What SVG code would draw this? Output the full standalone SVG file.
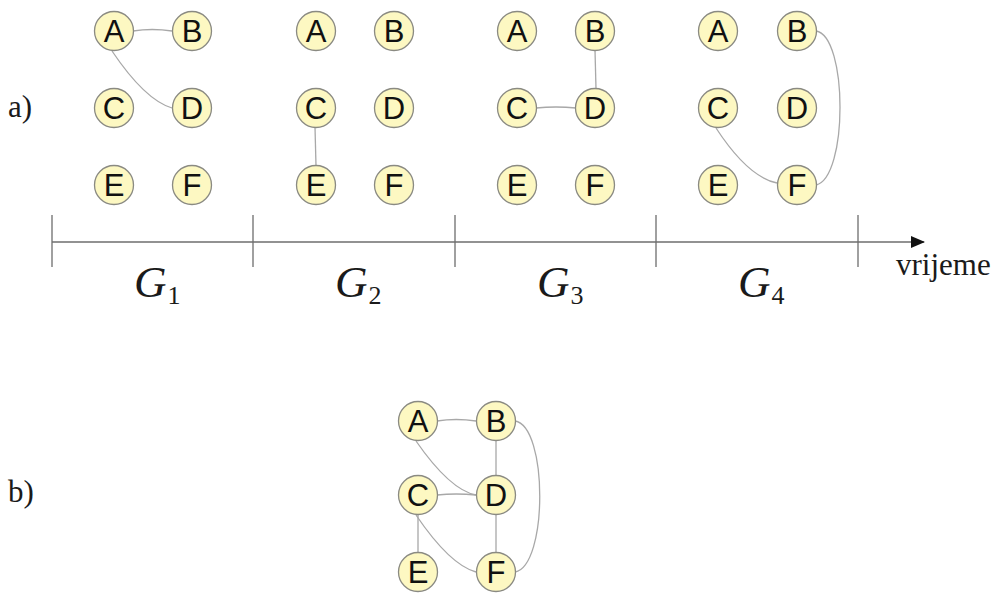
<svg xmlns="http://www.w3.org/2000/svg" width="998" height="593" viewBox="0 0 998 593">
<defs>
<style>
.n circle{fill:#fdf8c2;stroke:#8a8a82;stroke-width:1.3}
.n text{font-family:"Liberation Sans",Arial,sans-serif;font-size:31px;fill:#111;text-anchor:middle}
.e path{fill:none;stroke:#a8a8a8;stroke-width:1.3}
.ax{stroke:#6e6e6e;stroke-width:1.3;fill:none}
.lbl{font-family:"Liberation Serif","Times New Roman",serif;fill:#1a1a1a}
.g{font-style:italic;font-size:45px}
.s{font-size:26px}
.t{font-size:31px}
</style>
<marker id="arr" markerWidth="14" markerHeight="12" refX="13" refY="6" orient="auto" markerUnits="userSpaceOnUse">
<path d="M0,0 L14,6 L0,12 Z" fill="#111"/>
</marker>
</defs>
<rect width="998" height="593" fill="#fff"/>

<!-- connectors -->
<g id="connectors" class="e">
<!-- G1 -->
<path d="M133,31 Q152,28 172,31"/>
<path d="M112,51 Q145,100 172,108"/>
<!-- G2 -->
<path d="M315,127 L316,166"/>
<!-- G3 -->
<path d="M595,50 L596,89"/>
<path d="M536,108 Q556,106 576,108"/>
<!-- G4 -->
<path d="M816,31 C848,36 848,178 816,185"/>
<path d="M716,128 Q748,177 777,183"/>
<!-- b -->
<path d="M437,421 Q456,418 476,421"/>
<path d="M416,441 Q450,490 476,495"/>
<path d="M496,441 L496,475"/>
<path d="M437,495 Q456,493 476,495"/>
<path d="M418,515 L418,552"/>
<path d="M416,515 Q450,565 476,572"/>
<path d="M496,515 L496,552"/>
<path d="M515,421 C548,426 548,566 515,572"/>
</g>

<!-- time axis -->
<g id="axis">
<path class="ax" d="M52,242 L924,242" marker-end="url(#arr)"/>
<path class="ax" d="M52,215 V267 M253,215 V267 M455,215 V267 M656,215 V267 M858,215 V267"/>
<text class="lbl t" x="896" y="275">vrijeme</text>
<text class="lbl" x="134" y="297"><tspan class="g">G</tspan><tspan class="s" dx="1" dy="7">1</tspan></text>
<text class="lbl" x="335" y="297"><tspan class="g">G</tspan><tspan class="s" dx="1" dy="7">2</tspan></text>
<text class="lbl" x="537" y="297"><tspan class="g">G</tspan><tspan class="s" dx="1" dy="7">3</tspan></text>
<text class="lbl" x="738" y="297"><tspan class="g">G</tspan><tspan class="s" dx="1" dy="7">4</tspan></text>
<text class="lbl t" x="8" y="117">a)</text>
<text class="lbl t" x="8" y="502">b)</text>
</g>

<!-- G1 nodes -->
<g id="g1A" class="n"><circle cx="114" cy="31" r="19.5"/><text x="114" y="42">A</text></g>
<g id="g1B" class="n"><circle cx="192" cy="31" r="19.5"/><text x="192" y="42">B</text></g>
<g id="g1C" class="n"><circle cx="114" cy="108" r="19.5"/><text x="114" y="119">C</text></g>
<g id="g1D" class="n"><circle cx="192" cy="108" r="19.5"/><text x="192" y="119">D</text></g>
<g id="g1E" class="n"><circle cx="114" cy="185" r="19.5"/><text x="114" y="196">E</text></g>
<g id="g1F" class="n"><circle cx="192" cy="185" r="19.5"/><text x="192" y="196">F</text></g>
<!-- G2 nodes -->
<g id="g2A" class="n"><circle cx="316" cy="31" r="19.5"/><text x="316" y="42">A</text></g>
<g id="g2B" class="n"><circle cx="394" cy="31" r="19.5"/><text x="394" y="42">B</text></g>
<g id="g2C" class="n"><circle cx="316" cy="108" r="19.5"/><text x="316" y="119">C</text></g>
<g id="g2D" class="n"><circle cx="394" cy="108" r="19.5"/><text x="394" y="119">D</text></g>
<g id="g2E" class="n"><circle cx="316" cy="185" r="19.5"/><text x="316" y="196">E</text></g>
<g id="g2F" class="n"><circle cx="394" cy="185" r="19.5"/><text x="394" y="196">F</text></g>
<!-- G3 nodes -->
<g id="g3A" class="n"><circle cx="517" cy="31" r="19.5"/><text x="517" y="42">A</text></g>
<g id="g3B" class="n"><circle cx="595" cy="31" r="19.5"/><text x="595" y="42">B</text></g>
<g id="g3C" class="n"><circle cx="517" cy="108" r="19.5"/><text x="517" y="119">C</text></g>
<g id="g3D" class="n"><circle cx="595" cy="108" r="19.5"/><text x="595" y="119">D</text></g>
<g id="g3E" class="n"><circle cx="517" cy="185" r="19.5"/><text x="517" y="196">E</text></g>
<g id="g3F" class="n"><circle cx="595" cy="185" r="19.5"/><text x="595" y="196">F</text></g>
<!-- G4 nodes -->
<g id="g4A" class="n"><circle cx="718" cy="31" r="19.5"/><text x="718" y="42">A</text></g>
<g id="g4B" class="n"><circle cx="797" cy="31" r="19.5"/><text x="797" y="42">B</text></g>
<g id="g4C" class="n"><circle cx="718" cy="108" r="19.5"/><text x="718" y="119">C</text></g>
<g id="g4D" class="n"><circle cx="797" cy="108" r="19.5"/><text x="797" y="119">D</text></g>
<g id="g4E" class="n"><circle cx="718" cy="185" r="19.5"/><text x="718" y="196">E</text></g>
<g id="g4F" class="n"><circle cx="797" cy="185" r="19.5"/><text x="797" y="196">F</text></g>
<!-- b nodes -->
<g id="bA" class="n"><circle cx="418" cy="421" r="19.5"/><text x="418" y="432">A</text></g>
<g id="bB" class="n"><circle cx="496" cy="421" r="19.5"/><text x="496" y="432">B</text></g>
<g id="bC" class="n"><circle cx="418" cy="495" r="19.5"/><text x="418" y="506">C</text></g>
<g id="bD" class="n"><circle cx="496" cy="495" r="19.5"/><text x="496" y="506">D</text></g>
<g id="bE" class="n"><circle cx="418" cy="572" r="19.5"/><text x="418" y="583">E</text></g>
<g id="bF" class="n"><circle cx="496" cy="572" r="19.5"/><text x="496" y="583">F</text></g>
</svg>
